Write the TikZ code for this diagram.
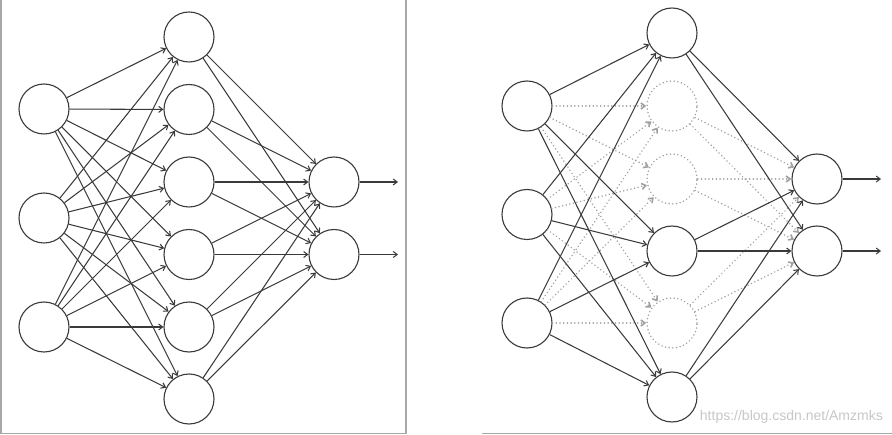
\documentclass[tikz,border=0pt]{standalone}
\usetikzlibrary{arrows.meta}
\usepackage{fontspec}
\newfontfamily\wmfont{Liberation Sans}
\definecolor{ink}{HTML}{3A3A3A}
\definecolor{dropc}{HTML}{A0A0A0}
\definecolor{framec}{HTML}{A8A8A8}
\tikzset{
  neuron/.style={circle,draw=ink,line width=1.1pt,minimum size=50pt,inner sep=0pt,fill=white},
  dropneuron/.style={circle,draw=dropc,line width=1.6pt,dash pattern=on 0.1pt off 3.6pt,line cap=round,minimum size=50pt,inner sep=0pt},
  conn/.style={draw=ink,line width=1.05pt,-{Straight Barb[length=4pt,width=6pt]}},
  dropconn/.style={draw=dropc,line width=1.6pt,dash pattern=on 0.1pt off 3.6pt,line cap=round,-{Straight Barb[length=4pt,width=6pt]}},
  framel/.style={draw=framec,line width=1.3pt}
}
\begin{document}
\begin{tikzpicture}[x=1pt,y=-1pt]
\useasboundingbox (0,0) rectangle (892,435);
% frames
\draw[framel] (1,0) -- (1,433.5) -- (406,433.5) -- (406,0);
\draw[framel] (482,433.5) -- (892,433.5);

% ---------- left network ----------
\foreach \i/\y in {1/109,2/218,3/327} \node[neuron] (Li\i) at (44,\y) {};
\foreach \j/\y in {1/37,2/109.5,3/182,4/254.5,5/327,6/399} \node[neuron] (Lh\j) at (189,\y) {};
\foreach \k/\y in {1/182,2/254.5} {
  \node[neuron] (Lo\k) at (334,\y) {};
  \coordinate (Lx\k) at (398,\y);
}
\foreach \i in {1,2,3} \foreach \j in {1,...,6} \draw[conn] (Li\i) -- (Lh\j);
\foreach \j in {1,...,6} \foreach \k in {1,2} \draw[conn] (Lh\j) -- (Lo\k);
\foreach \k in {1,2} \draw[conn] (Lo\k) -- (Lx\k);

% ---------- right network (dropout) ----------
\foreach \i/\y in {1/106,2/214.5,3/323} \node[neuron] (Ri\i) at (527,\y) {};
\foreach \j/\y in {1/33,4/251,6/397} \node[neuron] (Rh\j) at (672,\y) {};
\foreach \j/\y in {2/106,3/179,5/323} \node[dropneuron] (Rh\j) at (672,\y) {};
\foreach \k/\y in {1/179,2/251} {
  \node[neuron] (Ro\k) at (817,\y) {};
  \coordinate (Rx\k) at (881,\y);
}
\foreach \i in {1,2,3} \foreach \j in {2,3,5} \draw[dropconn] (Ri\i) -- (Rh\j);
\foreach \j in {2,3,5} \foreach \k in {1,2} \draw[dropconn] (Rh\j) -- (Ro\k);
\foreach \i in {1,2,3} \foreach \j in {1,4,6} \draw[conn] (Ri\i) -- (Rh\j);
\foreach \j in {1,4,6} \foreach \k in {1,2} \draw[conn] (Rh\j) -- (Ro\k);
\foreach \k in {1,2} \draw[conn] (Ro\k) -- (Rx\k);

% watermark
\node[anchor=east,text=black!22,font=\wmfont\fontsize{14}{16}\selectfont,inner sep=0pt] (wm) at (883,417) {https://blog.csdn.net/Amzmks};
\end{tikzpicture}
\end{document}
